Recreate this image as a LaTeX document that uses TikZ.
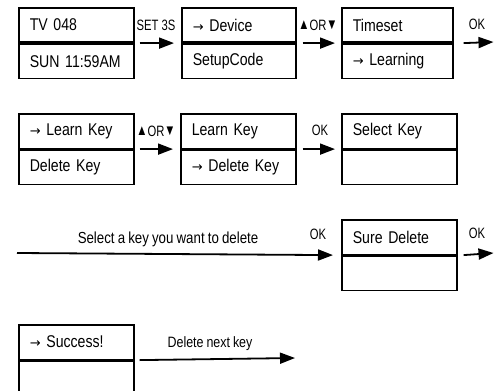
\documentclass[tikz,border=0pt]{standalone}
\usepackage{fontspec}
\setmainfont[FakeStretch=0.83,WordSpace=0.85]{Liberation Sans}
\newfontfamily\lblfont[FakeStretch=0.75]{Liberation Sans}
\newfontfamily\djv{DejaVu Sans}
\usetikzlibrary{arrows.meta}
\newcommand\rarr{{\djv\fontsize{13}{13}\selectfont →}}
\newcommand\tri[1]{\raisebox{0.3pt}{\fontsize{15}{15}\selectfont #1}}
\begin{document}
\begin{tikzpicture}[x=1pt,y=-1pt,
  half/.style={draw, line width=1.6pt, anchor=north west, minimum height=34.5pt,
    inner xsep=11pt, inner ysep=0pt, align=left, text width=#1,
    font=\fontsize{17}{19}\selectfont},
  half/.default=93pt,
  arrowline/.style={line width=1.8pt, -{Triangle[length=15pt,width=11pt]}},
  lbl/.style={inner sep=0pt, font=\lblfont\fontsize{15}{17}\selectfont},
  txt/.style={inner sep=0pt, font=\fontsize{16}{18}\selectfont}]
\useasboundingbox (0,0) rectangle (494,390);
% Row 1
\node[half] (b1t) at (18,7) {TV 048};
\node[half] (b1b) at (b1t.south west) {SUN 11:59AM};
\node[half=92pt] (b2t) at (181,7) {\rarr\ Device};
\node[half=92pt] (b2b) at (b2t.south west) {SetupCode};
\node[half=89pt] (b3t) at (341,7) {Timeset};
\node[half=89pt] (b3b) at (b3t.south west) {\rarr\ Learning};
\coordinate (e1) at (493.5,42);
\draw[arrowline] ([xshift=5pt]b1t.south east) -- ([xshift=-7pt]b2t.south west);
\draw[arrowline] ([xshift=6pt]b2t.south east) -- ([xshift=-6pt]b3t.south west);
\draw[arrowline] ([xshift=10pt]b3t.south east) -- (e1);
\node[lbl] (l1) at (156,25) {SET 3S};
\node[lbl] (l2) at (318,25) {\tri{▲}OR\tri{▼}};
\node[lbl] (l3) at (477,24) {OK};
% Row 2
\node[half] (c1t) at (18,113) {\rarr\ Learn Key};
\node[half] (c1b) at (c1t.south west) {Delete Key};
\node[half] (c2t) at (180,113) {Learn Key};
\node[half] (c2b) at (c2t.south west) {\rarr\ Delete Key};
\node[half] (c3t) at (341,113) {Select Key};
\node[half] (c3b) at (c3t.south west) {};
\draw[arrowline] ([xshift=5pt]c1t.south east) -- ([xshift=-7pt]c2t.south west);
\draw[arrowline] ([xshift=6pt]c2t.south east) -- ([xshift=-6pt]c3t.south west);
\node[lbl] (l4) at (156,131) {\tri{▲}OR\tri{▼}};
\node[lbl] (l5) at (320,130) {OK};
% Row 3
\node[half] (d1t) at (341,219) {Sure Delete};
\node[half] (d1b) at (d1t.south west) {};
\coordinate (s3) at (17,253);
\coordinate (e3) at (493.5,253);
\draw[arrowline] (s3) -- ([xshift=-8pt]d1t.south west);
\draw[arrowline] ([xshift=6pt]d1t.south east) -- (e3);
\node[txt] (l6) at (168,239) {Select a key you want to delete};
\node[lbl] (l7) at (318,234) {OK};
\node[lbl] (l8) at (477,233) {OK};
% Row 4
\node[half] (f1t) at (18,324) {\rarr\ Success!};
\node[half] (f1b) at (f1t.south west) {};
\coordinate (e4) at (295,358);
\draw[arrowline] ([xshift=5pt]f1t.south east) -- (e4);
\node[txt,font=\fontsize{15}{17}\selectfont] (l9) at (210,344) {Delete next key};
\end{tikzpicture}
\end{document}
